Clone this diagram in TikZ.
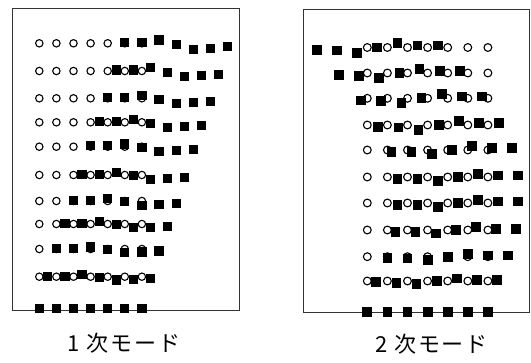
\documentclass[tikz,border=0pt]{standalone}
\usepackage{fontspec}
\newfontfamily\jpfont[LetterSpace=8]{Noto Sans CJK JP}
\begin{document}
\begin{tikzpicture}[x=1pt,y=-1pt]
\useasboundingbox (0,0) rectangle (531,363);
\tikzset{
  frame/.style={draw=black!80, line width=1pt},
  orig/.style={draw=black, line width=1.1pt, fill=white},
  disp/.style={fill=black},
  label/.style={font=\jpfont\fontsize{22}{26}\selectfont, inner sep=0pt}
}
% ---------------- left panel: 1st mode ----------------
\draw[frame] (12.3,9) rectangle (239,310.5);
\foreach \yy/\d/\f in {43.3/5/1, 71/4.5/0.95, 98.3/4/0.9, 122.3/3.5/0.85, 146.7/3/0.8,
                       175/2.5/0.75, 201/2/0.7, 224/1.5/0.65, 249/1/0.6, 276.7/0.5/0.55} {
  \foreach \i in {0,...,6}
    \draw[orig] ({39.3+17.1*\i}, \yy) circle[radius=3.7];
  \foreach \i/\v in {0/-1,1/-1,2/-3.3,3/1.2,4/6,5/5,6/3.5}
    \fill[disp] ({39.3+17.1*(\i+\d)-4.6}, {\yy+\f*\v-4.6}) rectangle ++(9.2,9.2);
}
\foreach \i in {0,...,6}
  \fill[disp] ({39.3+17.1*\i-4.6}, {308.5-4.6}) rectangle ++(9.2,9.2);
\node[label] (l1) at (124,343) {1\kern7pt 次モード};
% ---------------- right panel: 2nd mode ----------------
\draw[frame] (303,10) rectangle (529.3,312.3);
\foreach \yy/\d/\f in {47.5/-2.5/1, 73/-1.4/0.95, 98.3/-0.3/0.9, 125/0.55/0.85, 150/1.2/0.8,
                       177/1.5/0.75, 203/1.5/0.7, 230/1.4/0.65, 256.7/1/0.6, 281/0.45/0.55} {
  \foreach \i in {0,...,6}
    \draw[orig] ({367.3+20.1*\i}, \yy) circle[radius=3.9];
  \foreach \i/\v in {0/2.5,1/3,2/5.5,3/0,4/-4.5,5/-2,6/-2}
    \fill[disp] ({367.3+20.1*(\i+\d)-4.9}, {\yy+\f*\v-4.9}) rectangle ++(9.8,9.8);
}
\foreach \i in {0,...,6}
  \fill[disp] ({367.3+20.1*\i-4.9}, {312.3-4.9}) rectangle ++(9.8,9.8);
\node[label] (l2) at (431.5,344) {2\kern7pt 次モード};
\end{tikzpicture}
\end{document}
